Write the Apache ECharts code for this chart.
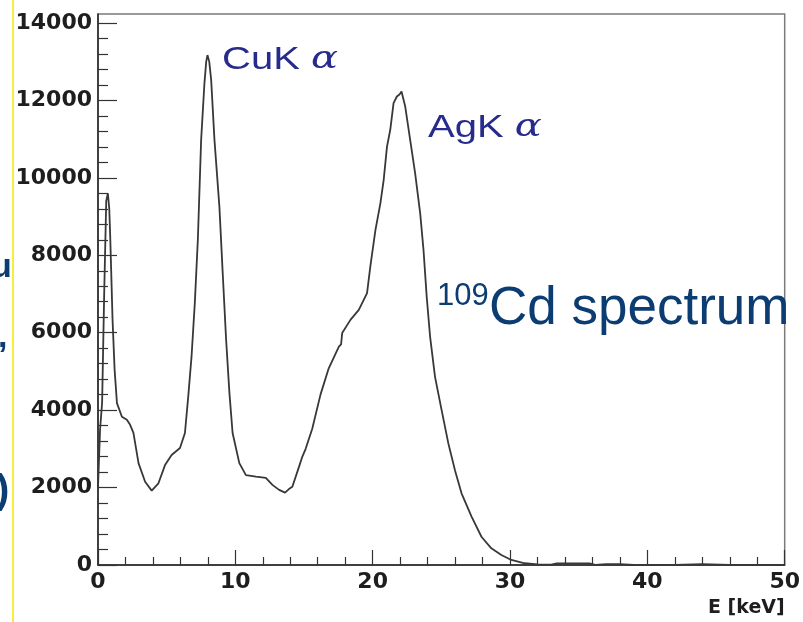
<!DOCTYPE html>
<html>
<head>
<meta charset="utf-8">
<script src="https://cdn.jsdelivr.net/npm/echarts@6/dist/echarts.min.js"></script>
<style>
  html, body { margin: 0; padding: 0; background: #ffffff; }
  #chart { width: 803px; height: 622px; }
</style>
</head>
<body>
<div id="chart"></div>
<script>
// 109Cd X-ray spectrum: bin energy (keV) and counts per bin
const energyKeV = [
  0.0, 0.15, 0.3, 0.45, 0.6, 0.72, 0.82, 0.89, 1.06, 1.21, 1.38, 1.74, 2.1, 2.34, 2.58, 2.95,
  3.43, 3.91, 4.4, 4.88, 5.36, 5.97, 6.33, 6.57, 6.81, 7.05, 7.27, 7.51, 7.75, 7.88, 7.97,
  8.1, 8.24, 8.48, 8.84, 9.08, 9.33, 9.57, 9.8, 10.29, 10.77, 11.5, 12.22, 12.7, 13.19,
  13.62, 13.9, 14.15, 14.64, 14.88, 15.12, 15.6, 16.2, 16.8, 17.54, 17.7, 17.78, 18.38,
  18.99, 19.59, 19.83, 20.2, 20.56, 20.8, 21.04, 21.28, 21.52, 21.76, 21.95, 22.1, 22.37,
  22.73, 23.09, 23.46, 23.7, 23.94, 24.18, 24.54, 25.02, 25.51, 25.99, 26.47, 27.2, 27.92,
  28.64, 29.37, 30.1, 31.07, 32.0, 33.0, 33.4, 35.8, 36.2, 37.0, 38.0, 39.0, 42.0, 44.0,
  46.0, 50.0
];
const counts = [
  2000, 3500, 4200, 7000, 9400, 9600, 9200, 8480, 6330, 5040, 4180, 3830, 3750, 3620, 3410, 2630,
  2150, 1920, 2110, 2580, 2840, 3020, 3410, 4350, 5380, 6770, 8400, 10980, 12440, 13000, 13170,
  13000, 12530, 10980, 9250, 7540, 5810, 4440, 3410, 2630, 2320, 2280, 2250, 2070, 1940,
  1870, 1960, 2020, 2540, 2800, 3000, 3520, 4400, 5080, 5640, 5700, 5990, 6330,
  6590, 7020, 7710, 8650, 9340, 9940, 10800, 11240, 11930, 12100, 12150, 12230, 11840,
  10980, 10120, 9080, 8140, 6900, 5900, 4860, 4000, 3140, 2450, 1850, 1250, 730,
  430, 260, 130, 45, 15, 10, 40, 40, 5, 20, 20, 0, 5, 20,
  0, 0
];

// Axis ranges and tick steps
const xRange = [0, 50];
const xStep = 10;
const yLabelRange = [0, 14000];
const yStep = 2000;
const yFrameTop = 14230;   // top of the plotting frame, just above the last labelled tick

// Peak annotations and title
const peakNames = ['CuK', 'AgK'];
const titleIsotope = '109';
const titleText = 'Cd spectrum';

const chart = echarts.init(document.getElementById('chart'), null, { renderer: 'canvas' });

const tickFont = { fontFamily: 'DejaVu Sans', fontWeight: 'bold', fontSize: 22, color: '#1e1e1e' };
const plainNumber = v => String(v);
const peakColor = '#262b8c';
const titleColor = '#0b3c72';

const spectrum = energyKeV.map((e, i) => [e, counts[i]]);

const option = {
  animation: false,
  backgroundColor: '#ffffff',
  grid: [
    { left: 98, right: 15, top: 14, bottom: 57, show: true, borderColor: '#7a7a7a', borderWidth: 1.5, backgroundColor: 'transparent' },
    { left: 98, right: 15, top: 23, bottom: 57, show: false }
  ],
  xAxis: [
    {
      gridIndex: 0, type: 'value', min: xRange[0], max: xRange[1], interval: xStep,
      name: 'E [keV]', nameLocation: 'end', nameGap: 0,
      nameTextStyle: { fontFamily: 'DejaVu Sans', fontWeight: 'bold', fontSize: 19, color: '#1e1e1e',
                       align: 'right', verticalAlign: 'top', padding: [34, 0, 0, 0] },
      axisLine: { show: true, lineStyle: { color: '#222', width: 1.5 } },
      axisTick: { show: true, inside: true, length: 15, lineStyle: { color: '#333', width: 1.2 } },
      minorTick: { show: true, splitNumber: 5, length: 8, lineStyle: { color: '#333', width: 1.2 } },
      splitLine: { show: false },
      axisLabel: Object.assign({ margin: 6, formatter: plainNumber }, tickFont)
    },
    { gridIndex: 1, type: 'value', min: xRange[0], max: xRange[1], show: false }
  ],
  yAxis: [
    {
      gridIndex: 0, type: 'value', min: 0, max: yFrameTop,
      axisLine: { show: true, lineStyle: { color: '#222', width: 1.5 } },
      axisTick: { show: false }, axisLabel: { show: false }, splitLine: { show: false }
    },
    {
      gridIndex: 1, type: 'value', min: yLabelRange[0], max: yLabelRange[1], interval: yStep,
      axisLine: { show: false },
      axisTick: { show: true, inside: true, length: 19, lineStyle: { color: '#333', width: 1.2 } },
      minorTick: { show: true, splitNumber: 5, length: 10, lineStyle: { color: '#333', width: 1.2 } },
      splitLine: { show: false },
      axisLabel: Object.assign({ margin: 6, formatter: plainNumber }, tickFont)
    }
  ],
  series: [
    {
      type: 'line', xAxisIndex: 0, yAxisIndex: 0, data: spectrum,
      showSymbol: false, smooth: false,
      lineStyle: { color: '#383838', width: 1.8 }
    }
  ],
  graphic: [
    // yellow slide divider on the left
    { type: 'line', shape: { x1: 13, y1: 0, x2: 13, y2: 622 }, style: { stroke: '#f4ef3a', lineWidth: 2 } },
    // clipped slide text on the left edge
    { type: 'text', style: { text: 'u', x: -9, y: 268, font: 'bold 34px "Liberation Sans"', fill: titleColor, textVerticalAlign: 'middle' } },
    { type: 'text', style: { text: ',', x: -2, y: 338, font: 'bold 34px "Liberation Sans"', fill: titleColor, textVerticalAlign: 'middle' } },
    { type: 'text', style: { text: ')', x: -4, y: 492, font: 'bold 40px "Liberation Sans"', fill: titleColor, textVerticalAlign: 'middle' } },
    // peak labels
    { type: 'text', x: 222, y: 60, scaleX: 1.25,
      style: { text: '{n|' + peakNames[0] + ' }{a|α}', textVerticalAlign: 'middle',
               rich: { n: { font: '32px "Liberation Sans"', fill: peakColor }, a: { font: 'italic 32px "DejaVu Serif"', fill: peakColor } } } },
    { type: 'text', x: 428, y: 128, scaleX: 1.25,
      style: { text: '{n|' + peakNames[1] + ' }{a|α}', textVerticalAlign: 'middle',
               rich: { n: { font: '32px "Liberation Sans"', fill: peakColor }, a: { font: 'italic 32px "DejaVu Serif"', fill: peakColor } } } },
    // title with superscript mass number
    { type: 'text', style: { text: titleIsotope, x: 437, y: 296, font: '31px "Liberation Sans"', fill: titleColor, textVerticalAlign: 'middle' } },
    { type: 'text', style: { text: titleText, x: 489, y: 309, font: '53px "Liberation Sans"', fill: titleColor, textVerticalAlign: 'middle' } }
  ]
};

chart.setOption(option);
</script>
</body>
</html>
